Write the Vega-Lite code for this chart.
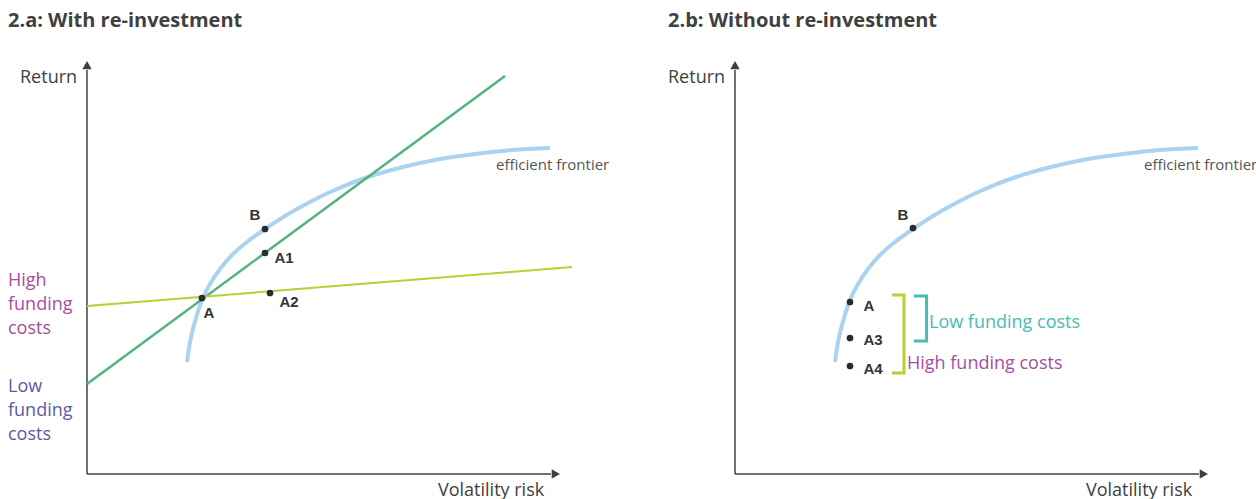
{
  "$schema": "https://vega.github.io/schema/vega-lite/v6.json",
  "padding": {"left": 8, "top": 11, "right": 0, "bottom": 0},
  "bounds": "flush",
  "spacing": 168,
  "background": "white",
  "config": {
    "view": {"stroke": null},
    "title": {"anchor": "start", "frame": "bounds", "font": "Open Sans", "fontSize": 20, "fontWeight": "bold", "color": "#404040", "baseline": "alphabetic", "offset": 23}
  },
  "resolve": {"scale": {"color": "independent", "x": "independent", "y": "independent", "shape": "independent"}},
  "datasets": {
    "frontier": [
      {"x": 2.5, "y": 2.8}, {"x": 2.55, "y": 3.15}, {"x": 2.625, "y": 3.525}, {"x": 2.725, "y": 3.9},
      {"x": 2.875, "y": 4.35}, {"x": 3.075, "y": 4.75}, {"x": 3.325, "y": 5.125}, {"x": 3.625, "y": 5.475},
      {"x": 4.0, "y": 5.8}, {"x": 4.45, "y": 6.125}, {"x": 4.95, "y": 6.45}, {"x": 5.525, "y": 6.775},
      {"x": 6.25, "y": 7.125}, {"x": 7.025, "y": 7.425}, {"x": 7.9, "y": 7.675}, {"x": 8.825, "y": 7.875},
      {"x": 9.7, "y": 8.0}, {"x": 10.625, "y": 8.1}, {"x": 11.575, "y": 8.15}
    ],
    "axes": [{"x": 0, "y": 0, "x2": 0, "y2": 10.1}, {"x": 0, "y": 0, "x2": 11.6, "y2": 0}],
    "arrows": [{"axis": "y", "x": 0, "y": 10.22}, {"axis": "x", "x": 11.72, "y": 0}],
    "line_low": [{"x": 0, "y": 2.25}, {"x": 10.45, "y": 9.95}],
    "line_high": [{"x": 0, "y": 4.2}, {"x": 12.125, "y": 5.175}],
    "points_a": [
      {"name": "A", "x": 2.875, "y": 4.4, "lx": 3.05, "ly": 4.025},
      {"name": "B", "x": 4.45, "y": 6.125, "lx": 4.2, "ly": 6.475},
      {"name": "A1", "x": 4.45, "y": 5.525, "lx": 4.925, "ly": 5.4},
      {"name": "A2", "x": 4.575, "y": 4.525, "lx": 5.05, "ly": 4.3}
    ],
    "points_b": [
      {"name": "B", "x": 4.45, "y": 6.15, "lx": 4.2, "ly": 6.475},
      {"name": "A", "x": 2.875, "y": 4.3, "lx": 3.35, "ly": 4.2},
      {"name": "A3", "x": 2.875, "y": 3.4, "lx": 3.45, "ly": 3.35},
      {"name": "A4", "x": 2.875, "y": 2.7, "lx": 3.45, "ly": 2.625}
    ],
    "bracket_high": [{"i": 1, "x": 3.925, "y": 4.475}, {"i": 2, "x": 4.225, "y": 4.475}, {"i": 3, "x": 4.225, "y": 2.525}, {"i": 4, "x": 3.925, "y": 2.525}],
    "bracket_low": [{"i": 1, "x": 4.475, "y": 4.45}, {"i": 2, "x": 4.79, "y": 4.45}, {"i": 3, "x": 4.79, "y": 3.325}, {"i": 4, "x": 4.475, "y": 3.325}],
    "axis_titles": [{"text": "Return", "x": -1.675, "y": 9.9}, {"text": "Volatility risk", "x": 8.775, "y": -0.42}],
    "frontier_label": [{"text": "efficient frontier", "x": 10.225, "y": 7.725}],
    "funding_a": [{"cost": "High", "text": "High\nfunding\ncosts", "x": -1.975, "y": 4.825}, {"cost": "Low", "text": "Low\nfunding\ncosts", "x": -1.975, "y": 2.175}],
    "funding_b": [{"cost": "Low", "text": "Low funding costs", "x": 4.85, "y": 3.775}, {"cost": "High", "text": "High funding costs", "x": 4.3, "y": 2.75}]
  },
  "hconcat": [
    {
      "title": "2.a: With re-investment",
      "width": 480,
      "height": 420,
      "encoding": {
        "x": {"field": "x", "type": "quantitative", "scale": {"domain": [0, 12], "nice": false, "zero": false}, "axis": null},
        "y": {"field": "y", "type": "quantitative", "scale": {"domain": [0, 10.5], "nice": false, "zero": false}, "axis": null}
      },
      "layer": [
        {"data": {"name": "axes"}, "mark": {"type": "rule", "color": "#404040", "strokeWidth": 1.5}, "encoding": {"x2": {"field": "x2"}, "y2": {"field": "y2"}}},
        {"data": {"name": "arrows"}, "mark": {"type": "point", "filled": true, "opacity": 1, "color": "#404040", "size": 90},
         "encoding": {"shape": {"field": "axis", "type": "nominal", "scale": {"domain": ["y", "x"], "range": ["triangle-up", "triangle-right"]}, "legend": null}}},
        {"data": {"name": "frontier"}, "mark": {"type": "line", "color": "#abd3f0", "strokeWidth": 4, "interpolate": "catmull-rom"}, "encoding": {}},
        {"data": {"name": "line_low"}, "mark": {"type": "line", "color": "#52b47c", "strokeWidth": 2.5}, "encoding": {}},
        {"data": {"name": "line_high"}, "mark": {"type": "line", "color": "#b2d235", "strokeWidth": 2}, "encoding": {}},
        {"data": {"name": "points_a"}, "mark": {"type": "point", "filled": true, "opacity": 1, "color": "#2b2b2b", "size": 45}, "encoding": {}},
        {"data": {"name": "points_a"}, "mark": {"type": "text", "font": "Liberation Sans", "fontWeight": "bold", "fontSize": 15, "color": "#333333", "align": "center", "baseline": "middle"},
         "encoding": {"x": {"field": "lx", "type": "quantitative"}, "y": {"field": "ly", "type": "quantitative"}, "text": {"field": "name"}}},
        {"data": {"name": "frontier_label"}, "mark": {"type": "text", "font": "Open Sans", "fontSize": 15, "color": "#555555", "align": "left", "baseline": "middle"}, "encoding": {"text": {"field": "text"}}},
        {"data": {"name": "axis_titles"}, "mark": {"type": "text", "font": "Open Sans", "fontSize": 18, "color": "#404040", "align": "left", "baseline": "middle"}, "encoding": {"text": {"field": "text"}}},
        {"data": {"name": "funding_a"}, "mark": {"type": "text", "font": "Open Sans", "fontSize": 18, "align": "left", "baseline": "middle", "lineBreak": "\n", "lineHeight": 24},
         "encoding": {"text": {"field": "text"}, "color": {"field": "cost", "type": "nominal", "scale": {"domain": ["High", "Low"], "range": ["#a3509d", "#5c5aa6"]}, "legend": null}}}
      ]
    },
    {
      "title": "2.b: Without re-investment",
      "width": 480,
      "height": 420,
      "encoding": {
        "x": {"field": "x", "type": "quantitative", "scale": {"domain": [0, 12], "nice": false, "zero": false}, "axis": null},
        "y": {"field": "y", "type": "quantitative", "scale": {"domain": [0, 10.5], "nice": false, "zero": false}, "axis": null}
      },
      "layer": [
        {"data": {"name": "axes"}, "mark": {"type": "rule", "color": "#404040", "strokeWidth": 1.5}, "encoding": {"x2": {"field": "x2"}, "y2": {"field": "y2"}}},
        {"data": {"name": "arrows"}, "mark": {"type": "point", "filled": true, "opacity": 1, "color": "#404040", "size": 90},
         "encoding": {"shape": {"field": "axis", "type": "nominal", "scale": {"domain": ["y", "x"], "range": ["triangle-up", "triangle-right"]}, "legend": null}}},
        {"data": {"name": "frontier"}, "mark": {"type": "line", "color": "#abd3f0", "strokeWidth": 4, "interpolate": "catmull-rom"}, "encoding": {}},
        {"data": {"name": "bracket_high"}, "mark": {"type": "line", "color": "#b2d235", "strokeWidth": 3}, "encoding": {"order": {"field": "i"}}},
        {"data": {"name": "bracket_low"}, "mark": {"type": "line", "color": "#45bdb3", "strokeWidth": 3}, "encoding": {"order": {"field": "i"}}},
        {"data": {"name": "points_b"}, "mark": {"type": "point", "filled": true, "opacity": 1, "color": "#2b2b2b", "size": 45}, "encoding": {}},
        {"data": {"name": "points_b"}, "mark": {"type": "text", "font": "Liberation Sans", "fontWeight": "bold", "fontSize": 15, "color": "#333333", "align": "center", "baseline": "middle"},
         "encoding": {"x": {"field": "lx", "type": "quantitative"}, "y": {"field": "ly", "type": "quantitative"}, "text": {"field": "name"}}},
        {"data": {"name": "frontier_label"}, "mark": {"type": "text", "font": "Open Sans", "fontSize": 15, "color": "#555555", "align": "left", "baseline": "middle"}, "encoding": {"text": {"field": "text"}}},
        {"data": {"name": "axis_titles"}, "mark": {"type": "text", "font": "Open Sans", "fontSize": 18, "color": "#404040", "align": "left", "baseline": "middle"}, "encoding": {"text": {"field": "text"}}},
        {"data": {"name": "funding_b"}, "mark": {"type": "text", "font": "Open Sans", "fontSize": 18, "align": "left", "baseline": "middle"},
         "encoding": {"text": {"field": "text"}, "color": {"field": "cost", "type": "nominal", "scale": {"domain": ["High", "Low"], "range": ["#a3509d", "#45bdb3"]}, "legend": null}}}
      ]
    }
  ]
}
